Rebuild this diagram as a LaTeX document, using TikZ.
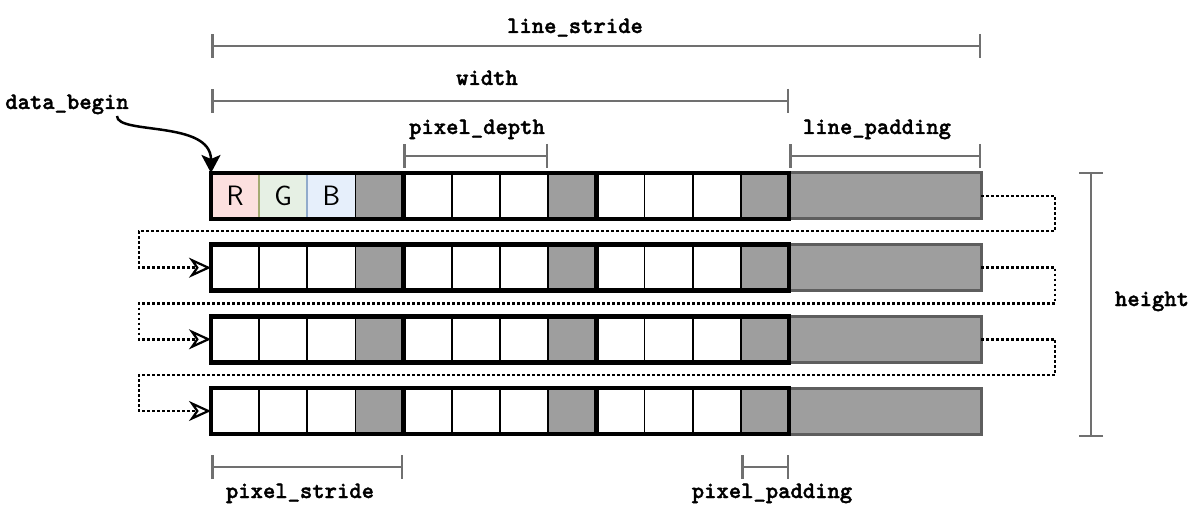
\documentclass[tikz,border=0pt]{standalone}
\usepackage{fontspec}
\setmainfont{Liberation Sans}
\newfontfamily\labfont{lmmonolt10-bold.otf}[FakeBold=1.6]
\usetikzlibrary{arrows.meta}
\definecolor{padgray}{HTML}{9E9E9E}
\definecolor{padedge}{HTML}{5E5E5E}
\definecolor{dimgray}{HTML}{707070}
\definecolor{rfill}{HTML}{FCE0DF}
\definecolor{gfill}{HTML}{E6F0E4}
\definecolor{bfill}{HTML}{E6EFFB}
\definecolor{rgline}{HTML}{A3AA72}
\definecolor{gbline}{HTML}{91ABCB}
\begin{document}
\begin{tikzpicture}[x=1pt,y=-1pt,
 lbl/.style={font=\fontsize{23.5pt}{28pt}\selectfont\labfont, inner sep=0pt, anchor=base},
 rgbl/.style={font=\fontsize{28pt}{32pt}\selectfont\sffamily, inner sep=0pt},
 cell/.style={draw=black, line width=1.8pt, minimum width=48.1667pt, minimum height=46pt, inner sep=0pt, outer sep=0pt, anchor=north west},
 rowbox/.style={draw=black, line width=4.5pt, minimum width=578pt, minimum height=46pt, inner sep=0pt, outer sep=0pt, anchor=north west},
 padbox/.style={draw=padedge, fill=padgray, line width=3pt, minimum width=192pt, minimum height=46pt, inner sep=0pt, outer sep=0pt, anchor=north west},
 sepline/.style={draw=black, line width=4.5pt},
 dim/.style={draw=dimgray, line width=2.5pt, {Bar[width=24pt]}-{Bar[width=24pt]}},
 flow/.style={draw=black, line width=2.7pt, dash pattern=on 2.6pt off 2.4pt, -{Stealth[open,length=22pt,width=20pt,inset=7pt,line width=2.2pt]}},
 ptr/.style={draw=black, line width=2.5pt, -{Stealth[length=18pt,width=19pt,inset=4pt]}}
]
\useasboundingbox (0,0) rectangle (1200,513);
\fill[white] (0,0) rectangle (1200,513);

% rows
\foreach \i/\t/\ca/\cb/\cc in {1/173/rfill/gfill/bfill,2/244.7/white/white/white,3/316.3/white/white/white,4/388/white/white/white}{
  \node[padbox] (p\i) at (789,\t) {};
  \node[cell, fill=\ca] (c\i-0-0) at (211,\t) {};
  \node[cell, fill=\cb] (c\i-0-1) at (259.1667,\t) {};
  \node[cell, fill=\cc] (c\i-0-2) at (307.3333,\t) {};
  \node[cell, fill=padgray] (c\i-0-3) at (355.5,\t) {};
  \foreach \g in {1,2}{
    \foreach \k/\col in {0/white,1/white,2/white,3/padgray}{
      \pgfmathsetmacro\xx{211+48.1667*(4*\g+\k)}
      \node[cell, fill=\col] (c\i-\g-\k) at (\xx,\t) {};
    }
  }
  \node[rowbox] (r\i) at (211,\t) {};
  \draw[sepline] (c\i-1-0.north west) -- (c\i-1-0.south west);
  \draw[sepline] (c\i-2-0.north west) -- (c\i-2-0.south west);
}
\draw[rgline, line width=1.8pt, shorten <=2.25pt, shorten >=2.25pt] (c1-0-0.north east) -- (c1-0-0.south east);
\draw[gbline, line width=1.8pt, shorten <=2.25pt, shorten >=2.25pt] (c1-0-1.north east) -- (c1-0-1.south east);
\node[rgbl] (lr) at (c1-0-0) {R};
\node[rgbl] (lg) at (c1-0-1) {G};
\node[rgbl] (lb) at (c1-0-2) {B};

% row-to-row flow
\coordinate (m1) at (1055,231);   \coordinate (n1) at (139,231);
\coordinate (m2) at (1055,303.5); \coordinate (n2) at (139,303.5);
\coordinate (m3) at (1055,375);   \coordinate (n3) at (139,375);
\draw[flow] (p1.east) -| (m1) -- (n1) |- (r2.west);
\draw[flow] (p2.east) -| (m2) -- (n2) |- (r3.west);
\draw[flow] (p3.east) -| (m3) -- (n3) |- (r4.west);

% dimensions
\coordinate (ls1) at (211,46);  \coordinate (ls2) at (981,46);
\coordinate (w1) at (211,101);  \coordinate (w2) at (789,101);
\coordinate (pd1) at (403,156); \coordinate (pd2) at (548,156);
\coordinate (lp1) at (789,156); \coordinate (lp2) at (981,156);
\coordinate (ps1) at (211,467); \coordinate (ps2) at (403,467);
\coordinate (pp1) at (741,467); \coordinate (pp2) at (789,467);
\coordinate (h1) at (1091,172); \coordinate (h2) at (1091,437);
\draw[dim] (ls1) -- (ls2);
\draw[dim] (w1) -- (w2);
\draw[dim] (pd1) -- (pd2);
\draw[dim] (lp1) -- (lp2);
\draw[dim] (ps1) -- (ps2);
\draw[dim] (pp1) -- (pp2);
\draw[dim] (h1) -- (h2);

% labels
\node[lbl] (tls) at (575,33) {line\_stride};
\node[lbl] (tw) at (487,85) {width};
\node[lbl] (tpd) at (477,134) {pixel\_depth};
\node[lbl] (tlp) at (877,134) {line\_padding};
\node[lbl] (tdb) at (67,109) {data\_begin};
\node[lbl] (th) at (1152,306) {height};
\node[lbl] (tps) at (300,498) {pixel\_stride};
\node[lbl] (tpp) at (772,498) {pixel\_padding};

% data_begin pointer
\draw[ptr] (117,116) .. controls (117,135) and (211,120) .. (r1.north west);
\end{tikzpicture}
\end{document}
